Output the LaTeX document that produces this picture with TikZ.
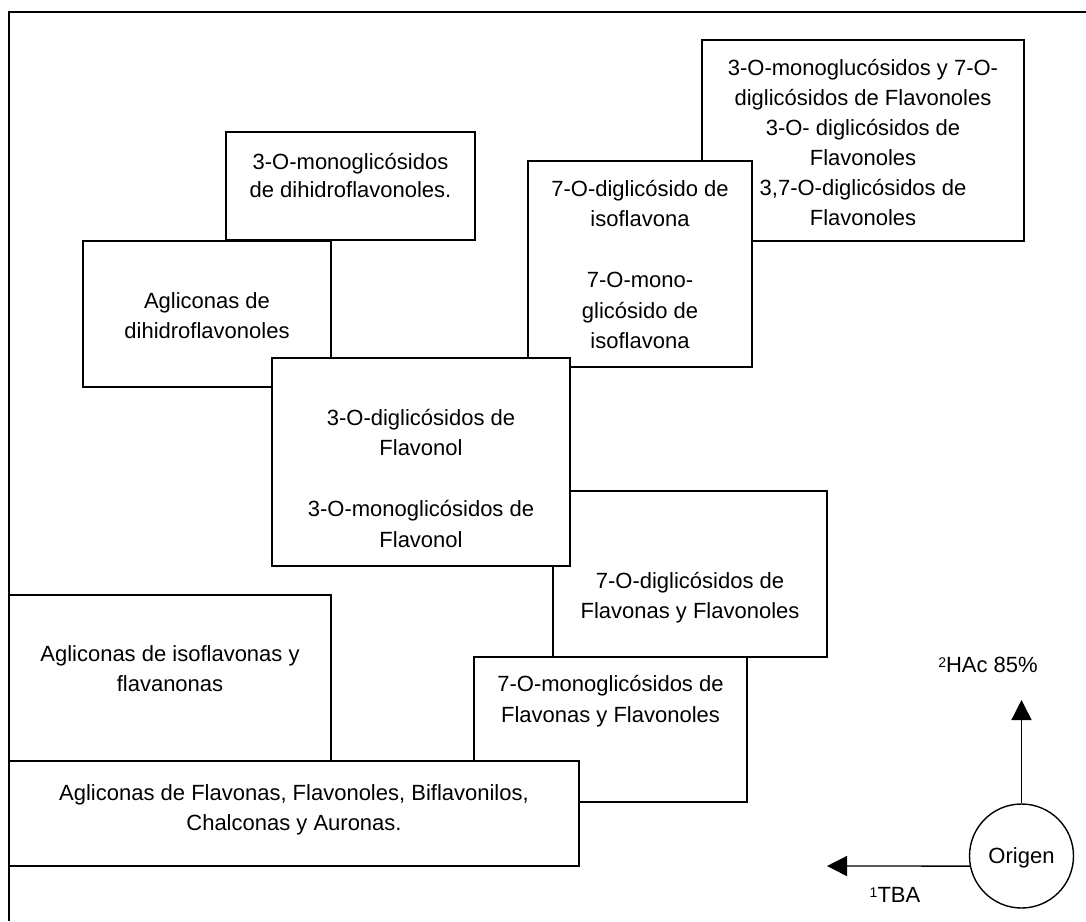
\documentclass[tikz,border=0pt]{standalone}
\usepackage{fontspec}
\setmainfont{Liberation Sans}
\usetikzlibrary{arrows.meta}
\newcommand{\supnum}[1]{\raisebox{4.5pt}{\fontsize{14}{14}\selectfont #1}}
\begin{document}
\begin{tikzpicture}[x=1pt,y=-1pt,
  box/.style={draw, fill=white, line width=1.8pt, inner sep=0pt, outer sep=0pt, anchor=north west},
  txt/.style={anchor=base, inner sep=0pt, font=\fontsize{22}{30}\selectfont},
  arr/.style={line width=1.4pt, -{Triangle[length=20pt,width=20pt]}}]
\useasboundingbox (0,0) rectangle (1086,921);
\fill[white] (0,0) rectangle (1086,921);
% outer frame (open to the right and bottom)
\draw[line width=2.2pt] (9,921) -- (9,12) -- (1086,12);

% E
\node[box, minimum width=322pt, minimum height=201pt] (E) at (702,40) {};
\node[txt] (e1) at (863,75) {3-O-monoglucósidos y 7-O-};
\node[txt] (e2) at (863,105) {diglicósidos de Flavonoles};
\node[txt] (e3) at (863,135) {3-O- diglicósidos de};
\node[txt] (e4) at (863,165) {Flavonoles};
\node[txt] (e5) at (863,195) {3,7-O-diglicósidos de};
\node[txt] (e6) at (863,225) {Flavonoles};

% D
\node[box, minimum width=224pt, minimum height=206pt] (D) at (528,161) {};
\node[txt] (d1) at (640,196) {7-O-diglicósido de};
\node[txt] (d2) at (640,226.5) {isoflavona};
\node[txt] (d3) at (640,287.5) {7-O-mono-};
\node[txt] (d4) at (640,318) {glicósido de};
\node[txt] (d5) at (640,348.5) {isoflavona};

% A
\node[box, minimum width=249pt, minimum height=108pt] (A) at (226,132) {};
\node[txt] (a1) at (350.5,169) {3-O-monoglicósidos};
\node[txt] (a2) at (350.5,197) {de dihidroflavonoles.};

% B
\node[box, minimum width=248pt, minimum height=146pt] (B) at (83,241) {};
\node[txt] (b1) at (207,308) {Agliconas de};
\node[txt] (b2) at (207,338) {dihidroflavonoles};

% F
\node[box, minimum width=274pt, minimum height=166pt] (F) at (553,491) {};
\node[txt] (f1) at (690,588) {7-O-diglicósidos de};
\node[txt] (f2) at (690,618) {Flavonas y Flavonoles};

% C
\node[box, minimum width=298pt, minimum height=208pt] (C) at (272,358) {};
\node[txt] (c1) at (421,425) {3-O-diglicósidos de};
\node[txt] (c2) at (421,455.5) {Flavonol};
\node[txt] (c3) at (421,516.5) {3-O-monoglicósidos de};
\node[txt] (c4) at (421,547) {Flavonol};

% G
\node[box, minimum width=273pt, minimum height=145pt] (G) at (474,657) {};
\node[txt] (g1) at (610.5,691) {7-O-monoglicósidos de};
\node[txt] (g2) at (610.5,722) {Flavonas y Flavonoles};

% H
\node[box, minimum width=322pt, minimum height=166pt] (H) at (9,595) {};
\node[txt] (h1) at (170,661) {Agliconas de isoflavonas y};
\node[txt] (h2) at (170,691) {flavanonas};

% I
\node[box, minimum width=570pt, minimum height=105pt] (I) at (9,761) {};
\node[txt] (i1) at (294,800) {Agliconas de Flavonas, Flavonoles, Biflavonilos,};
\node[txt] (i2) at (294,830) {Chalconas y Auronas.};

% origin and axes
\node[draw, circle, line width=1.4pt, minimum size=104pt, inner sep=0pt,
      font=\fontsize{22}{30}\selectfont, text height=15.8pt, text depth=0pt] (o) at (1021.5,856) {Origen};
\coordinate (uptip) at (1021.5,700);
\coordinate (lefttip) at (827,866);
\draw[arr] (o.north) -- (uptip);
\draw[arr] (o.191) -- (lefttip);
\node[txt] (hac) at (988,672) {\supnum{2}HAc 85\%};
\node[txt] (tba) at (895,902) {\supnum{1}TBA};
\end{tikzpicture}
\end{document}
